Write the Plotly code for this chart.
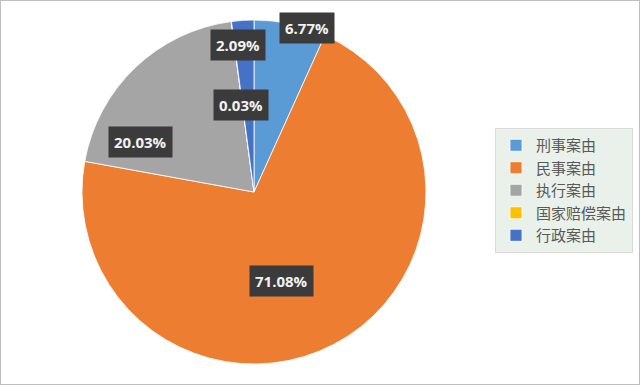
import math
import plotly.graph_objects as go

categories = ["刑事案由", "民事案由", "执行案由", "国家赔偿案由", "行政案由"]
values = [6.77, 71.08, 20.03, 0.03, 2.09]
colors = ["#5B9BD5", "#ED7D31", "#A5A5A5", "#FFC000", "#4472C4"]
# label placement (style): angle clockwise from top in degrees, radius fraction
label_theta = [17.9, 163.1, -66.3, -8.6, -6.2]
label_r = [1.00, 0.54, 0.72, 0.51, 0.86]

W, H = 640, 385
cx, cy, R = 254, 193, 172  # pixels, cy measured from bottom

fig = go.Figure(go.Pie(
    labels=categories, values=values, sort=False, direction="clockwise", rotation=0,
    marker=dict(colors=colors, line=dict(color="white", width=0.8)),
    textinfo="none", hoverinfo="label+percent",
    domain=dict(x=[(cx - R) / W, (cx + R) / W], y=[(cy - R) / H, (cy + R) / H]),
))

total = sum(values)
anns = []
for v, th, r in zip(values, label_theta, label_r):
    a = math.radians(th)
    x = (cx + r * R * math.sin(a)) / W
    y = (cy + r * R * math.cos(a)) / H
    anns.append(dict(x=x, y=y, xref="paper", yref="paper", showarrow=False,
                     text=f"<b>{v / total * 100:.2f}%</b>",
                     font=dict(family="Open Sans", size=15, color="#F2F2F2"),
                     bgcolor="#3B3B3B", borderpad=5, xanchor="center", yanchor="middle"))

fig.update_layout(
    width=W, height=H, margin=dict(l=0, r=0, t=0, b=0),
    paper_bgcolor="white", plot_bgcolor="white",
    annotations=anns,
    legend=dict(x=495 / W, y=(H - 128) / H, xanchor="left", yanchor="top",
                bgcolor="#EAF1EA", bordercolor="#D9D9D9", borderwidth=1,
                font=dict(family="Noto Sans CJK SC", size=15, color="#595959"),
                itemwidth=30, tracegroupgap=0),
    shapes=[dict(type="rect", xref="paper", yref="paper", x0=0, y0=0, x1=1, y1=1,
                 line=dict(color="#BFBFBF", width=2))],
)

fig.write_html("out.html", config={"displayModeBar": False},
               post_script="document.body.style.margin='0';document.body.style.overflow='hidden';")
